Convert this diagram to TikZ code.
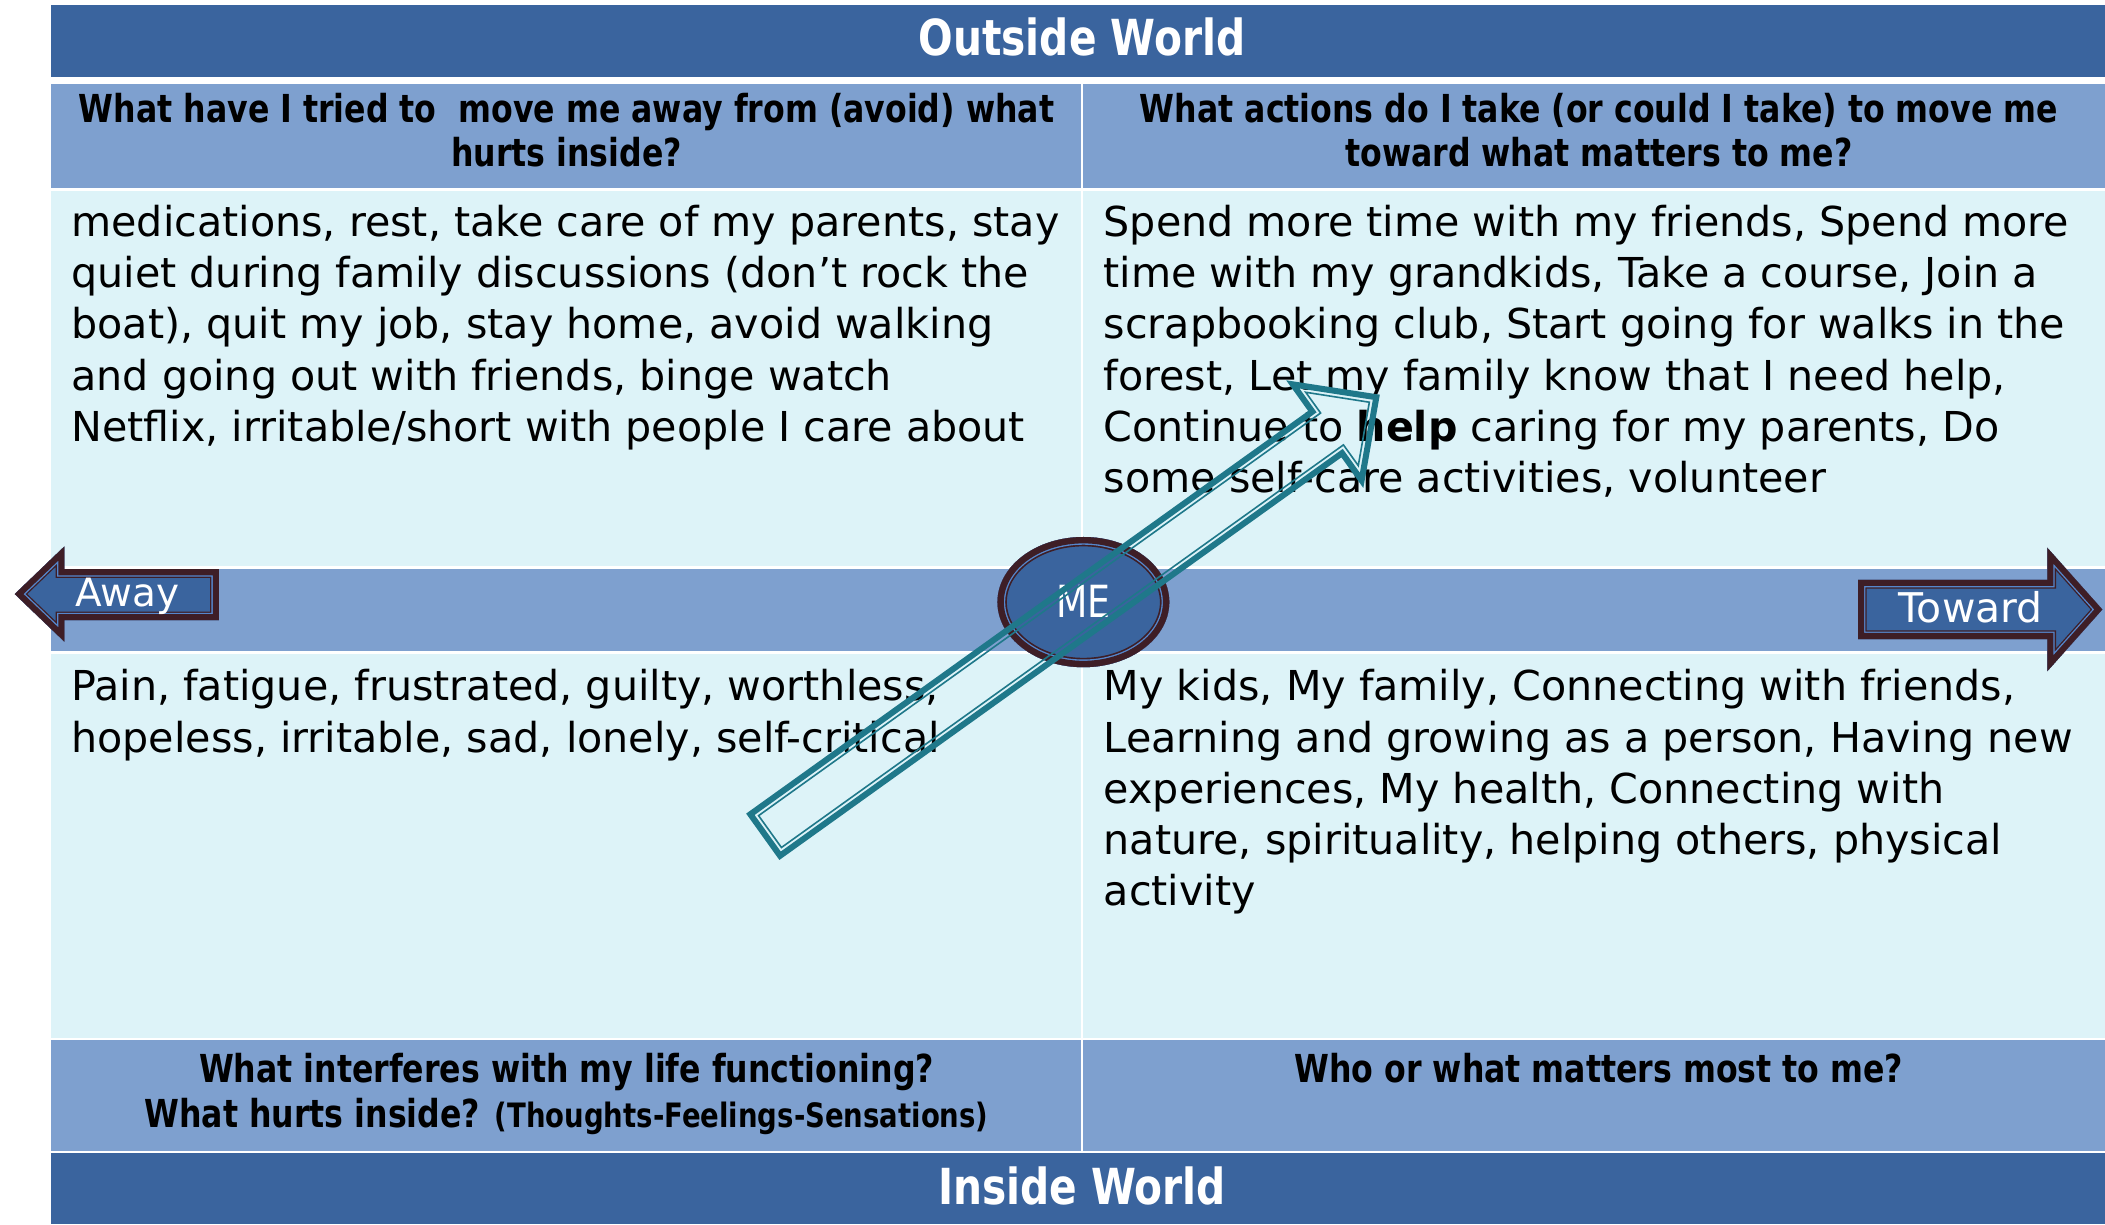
\documentclass[tikz,border=0pt]{standalone}
\usepackage{fontspec}
\setmainfont{DejaVu Sans}
\newfontfamily\hdrfont[FakeStretch=0.82]{DejaVu Sans}
\definecolor{bandblue}{RGB}{58,100,158}
\definecolor{hdrblue}{RGB}{126,160,207}
\definecolor{cellcyan}{RGB}{221,243,248}
\definecolor{darkmaroon}{RGB}{62,30,38}
\definecolor{tealline}{RGB}{31,120,138}
\definecolor{thinblue}{RGB}{85,135,205}
\tikzset{
  bodytext/.style={anchor=base west, inner sep=0pt, font=\fontsize{30.7}{36}\selectfont, text=black},
  hdrtext/.style={anchor=base, inner sep=0pt, font=\hdrfont\bfseries\fontsize{28.7}{32}\selectfont, text=black},
  titletext/.style={anchor=base, inner sep=0pt, font=\hdrfont\bfseries\fontsize{37}{42}\selectfont, text=white},
  arrowtext/.style={anchor=base, inner sep=0pt, font=\fontsize{29}{34}\selectfont, text=white},
  awayshape/.style={insert path={(163,424) -- (48,424) -- (48,407) -- (11,442.5) -- (48,478) -- (48,462) -- (163,462) -- cycle}},
  towardshape/.style={insert path={(1384,432) -- (1525,432) -- (1525,408) -- (1566,454) -- (1525,500) -- (1525,476) -- (1384,476) -- cycle}},
  meshape/.style={insert path={(807,448.5) ellipse [x radius=64, y radius=48.5]}},
}
\begin{document}
\begin{tikzpicture}[x=1pt,y=-1pt]
\useasboundingbox (0,0) rectangle (1568,912);
\fill[white] (0,0) rectangle (1568,912);
% bands and cells
\fill[bandblue] (38,4) rectangle (1568,57.5);
\fill[hdrblue] (38,62.5) rectangle (805,140);
\fill[hdrblue] (807,62.5) rectangle (1568,140);
\fill[cellcyan] (38,142) rectangle (805,421.5);
\fill[cellcyan] (807,142) rectangle (1568,421.5);
\fill[hdrblue] (38,423.5) rectangle (1568,485);
\fill[cellcyan] (38,487) rectangle (805,773);
\fill[cellcyan] (807,487) rectangle (1568,773);
\fill[hdrblue] (38,775) rectangle (805,857);
\fill[hdrblue] (807,775) rectangle (1568,857);
\fill[bandblue] (38,859) rectangle (1568,912);

% titles
\node[titletext] (outside) at (806,41) {Outside World};
\node[titletext] (inside) at (806,897) {Inside World};

% header texts
\node[hdrtext] (htl1) at (422,91) {What have I tried to\ \ move me away from (avoid) what};
\node[hdrtext] (htl2) at (422,124) {hurts inside?};
\node[hdrtext] (htr1) at (1191,91) {What actions do I take (or could I take) to move me};
\node[hdrtext] (htr2) at (1191,124) {toward what matters to me?};
\node[hdrtext] (hbl1) at (422,806) {What interferes with my life functioning?};
\node[hdrtext] (hbl2) at (422,840) {What hurts inside? {\fontsize{25}{28}\selectfont(Thoughts-Feelings-Sensations)}};
\node[hdrtext] (hbr1) at (1191,806) {Who or what matters most to me?};

% body texts
\foreach \t [count=\i] in {{medications, rest, take care of my parents, stay},
  {quiet during family discussions (don’t rock the},
  {boat), quit my job, stay home, avoid walking},
  {and going out with friends, binge watch},
  {Netflix, irritable/short with people I care about}}
  \node[bodytext] (tl\i) at (53,{176+38.2*(\i-1)}) {\t};
\foreach \t [count=\i] in {{Spend more time with my friends, Spend more},
  {time with my grandkids, Take a course, Join a},
  {scrapbooking club, Start going for walks in the},
  {forest, Let my family know that I need help,},
  {Continue to \textbf{help} caring for my parents, Do},
  {some self-care activities, volunteer}}
  \node[bodytext] (tr\i) at (822,{176+38.2*(\i-1)}) {\t};
\foreach \t [count=\i] in {{Pain, fatigue, frustrated, guilty, worthless,},
  {hopeless, irritable, sad, lonely, self-critical}}
  \node[bodytext] (bl\i) at (53,{522+38.2*(\i-1)}) {\t};
\foreach \t [count=\i] in {{My kids, My family, Connecting with friends,},
  {Learning and growing as a person, Having new},
  {experiences, My health, Connecting with},
  {nature, spirituality, helping others, physical},
  {activity}}
  \node[bodytext] (br\i) at (822,{522+38.2*(\i-1)}) {\t};

% ME ellipse
\begin{scope}
  \path[clip, meshape];
  \fill[bandblue, meshape];
  \draw[darkmaroon, line width=14, meshape];
  \draw[thinblue, line width=11.5, meshape];
  \draw[darkmaroon, line width=9.5, meshape];
\end{scope}
\node[arrowtext, font=\hdrfont\fontsize{33}{36}\selectfont] (me) at (807,460) {ME};

% Away arrow
\begin{scope}
  \path[clip, awayshape];
  \fill[bandblue, awayshape];
  \draw[darkmaroon, line width=13, awayshape];
  \draw[thinblue, line width=11, awayshape];
  \draw[darkmaroon, line width=9, awayshape];
\end{scope}
\node[arrowtext] (away) at (95,452) {Away};

% Toward arrow
\begin{scope}
  \path[clip, towardshape];
  \fill[bandblue, towardshape];
  \draw[darkmaroon, line width=13, towardshape];
  \draw[thinblue, line width=11, towardshape];
  \draw[darkmaroon, line width=9, towardshape];
\end{scope}
\node[arrowtext, font=\fontsize{30.5}{34}\selectfont] (toward) at (1468,464) {Toward};

% diagonal hollow arrow
\begin{scope}[shift={(570,622)}, rotate=35.62]
  \draw[tealline, line width=4.5, line join=miter]
    (0,-19) -- (515,-19) -- (515,-44) -- (560,0) -- (515,44) -- (515,19) -- (0,19) -- cycle;
  \draw[tealline, line width=1.2, line join=miter]
    (4.4,-14.6) -- (519.4,-14.6) -- (519.4,-33.6) -- (553.6,0) -- (519.4,33.6) -- (519.4,14.6) -- (4.4,14.6) -- cycle;
\end{scope}
\end{tikzpicture}
\end{document}
